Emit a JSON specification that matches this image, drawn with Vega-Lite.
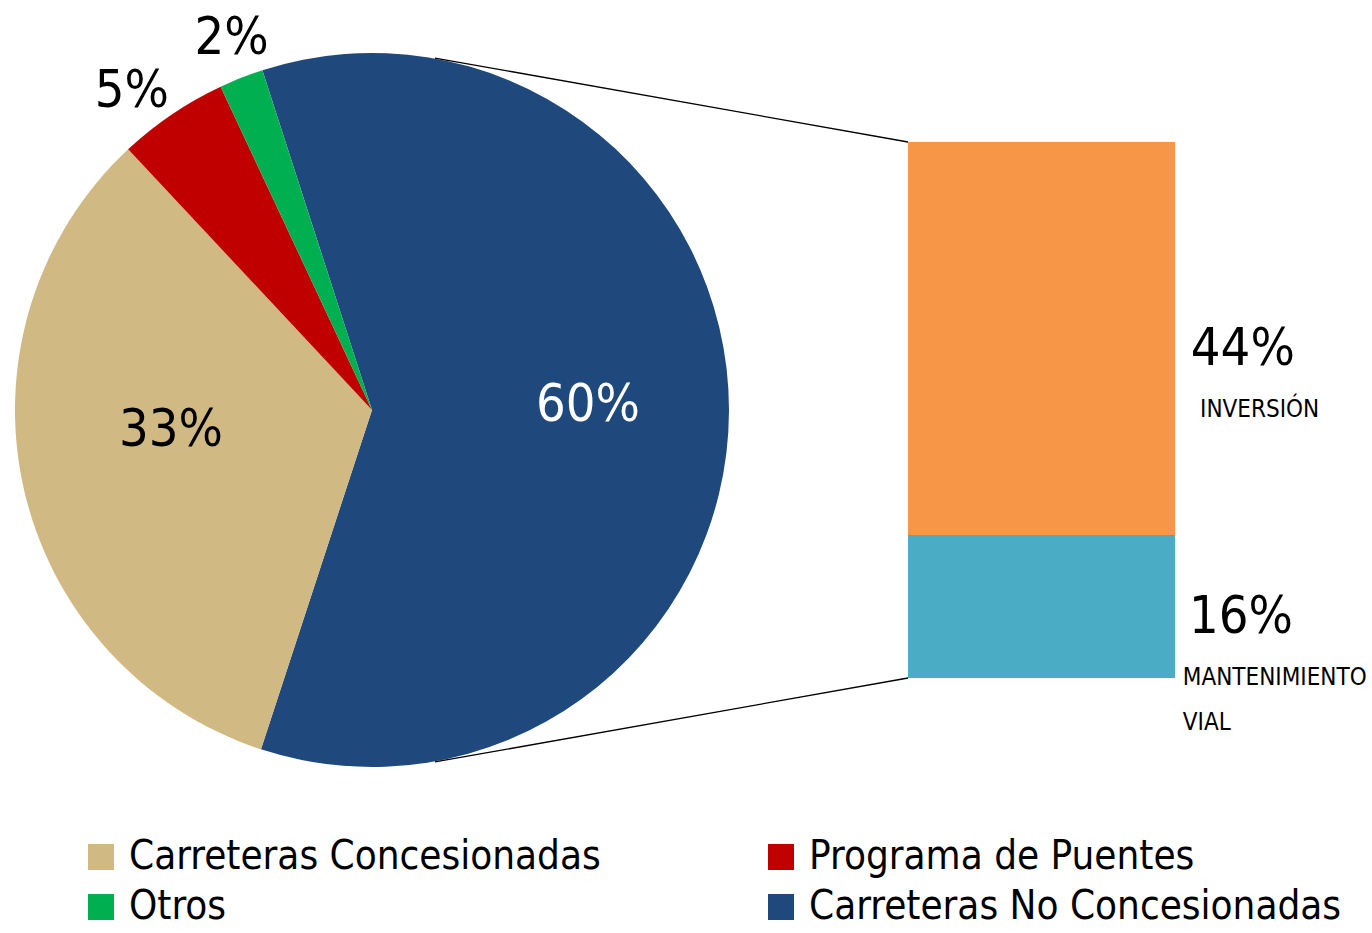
{
  "$schema": "https://vega.github.io/schema/vega-lite/v6.json",
  "width": 744,
  "height": 820,
  "autosize": {"type": "none"},
  "padding": {"left": 0, "top": 0, "right": 628, "bottom": 113},
  "background": "white",
  "config": {
    "view": {"stroke": null},
    "font": "DejaVu Sans Condensed, sans-serif",
    "text": {"font": "DejaVu Sans Condensed, sans-serif"}
  },
  "datasets": {
    "pie": [
      {"categoria": "Carreteras No Concesionadas", "pct": 60, "orden": 1, "etiqueta": "60%"},
      {"categoria": "Carreteras Concesionadas", "pct": 33, "orden": 2, "etiqueta": "33%"},
      {"categoria": "Programa de Puentes", "pct": 5, "orden": 3, "etiqueta": "5%"},
      {"categoria": "Otros", "pct": 2, "orden": 4, "etiqueta": "2%"}
    ],
    "barra": [
      {"componente": "MANTENIMIENTO VIAL", "pct": 16, "orden": 1, "etiqueta": "16%"},
      {"componente": "INVERSIÓN", "pct": 44, "orden": 2, "etiqueta": "44%"}
    ]
  },
  "resolve": {"scale": {"color": "independent"}},
  "layer": [
    {
      "data": {"name": "pie"},
      "encoding": {
        "theta": {"field": "pct", "type": "quantitative", "stack": true, "scale": {"range": [-0.312, 5.971]}},
        "order": {"field": "orden", "type": "quantitative"}
      },
      "layer": [
        {
          "mark": {"type": "arc", "radius": 357},
          "encoding": {
            "color": {
              "field": "categoria", "type": "nominal",
              "scale": {
                "domain": ["Carreteras Concesionadas", "Programa de Puentes", "Otros", "Carreteras No Concesionadas"],
                "range": ["#D0B982", "#C00000", "#00B050", "#1F497D"]
              },
              "legend": {
                "title": null,
                "orient": "none",
                "legendX": 81,
                "legendY": 837,
                "padding": 0,
                "direction": "horizontal",
                "columns": 2,
                "columnPadding": 160,
                "rowPadding": 10,
                "symbolType": "square",
                "symbolSize": 676,
                "symbolStrokeWidth": 0,
                "labelFontSize": 40,
                "labelOffset": 8,
                "labelLimit": 800,
                "labelColor": "black",
                "labelFont": "DejaVu Sans Condensed, sans-serif"
              }
            }
          }
        },
        {
          "mark": {"type": "text", "radius": 216, "fontSize": 52, "color": "white", "baseline": "middle", "align": "center", "dy": -5},
          "encoding": {
            "text": {"field": "etiqueta", "type": "nominal"},
            "opacity": {"condition": {"test": "datum.orden === 1", "value": 1}, "value": 0}
          }
        },
        {
          "mark": {"type": "text", "radius": 206, "fontSize": 52, "color": "black", "baseline": "middle", "align": "center", "dy": -25},
          "encoding": {
            "text": {"field": "etiqueta", "type": "nominal"},
            "opacity": {"condition": {"test": "datum.orden === 2", "value": 1}, "value": 0}
          }
        },
        {
          "mark": {"type": "text", "radius": 400, "fontSize": 52, "color": "black", "baseline": "middle", "align": "center", "dx": -16, "dy": 12},
          "encoding": {
            "text": {"field": "etiqueta", "type": "nominal"},
            "opacity": {"condition": {"test": "datum.orden === 3", "value": 1}, "value": 0}
          }
        },
        {
          "mark": {"type": "text", "radius": 400, "fontSize": 52, "color": "black", "baseline": "middle", "align": "center", "dx": 6},
          "encoding": {
            "text": {"field": "etiqueta", "type": "nominal"},
            "opacity": {"condition": {"test": "datum.orden === 4", "value": 1}, "value": 0}
          }
        }
      ]
    },
    {
      "data": {"name": "barra"},
      "transform": [
        {"stack": "pct", "groupby": [], "sort": [{"field": "orden", "order": "ascending"}], "as": ["s0", "s1"]}
      ],
      "layer": [
        {
          "mark": {"type": "rect"},
          "encoding": {
            "x": {"datum": 101.64, "type": "quantitative", "scale": {"domain": [0, 83.28], "nice": false, "zero": false}, "axis": null},
            "x2": {"datum": 131.53},
            "y": {"field": "s0", "type": "quantitative", "scale": {"domain": [-15.896, 75.896], "nice": false, "zero": false}, "axis": null},
            "y2": {"field": "s1"},
            "color": {
              "field": "componente", "type": "nominal",
              "scale": {"domain": ["INVERSIÓN", "MANTENIMIENTO VIAL"], "range": ["#F79646", "#4BACC6"]},
              "legend": null
            }
          }
        },
        {
          "transform": [{"filter": "datum.orden === 2"}],
          "layer": [
            {
              "mark": {"type": "rule", "color": "black", "strokeWidth": 1.3},
              "encoding": {
                "x": {"datum": 101.64, "type": "quantitative", "axis": null},
                "y": {"field": "s1", "type": "quantitative", "axis": null},
                "x2": {"datum": 48.69},
                "y2": {"datum": 69.4}
              }
            },
            {
              "mark": {"type": "text", "fontSize": 52, "align": "left", "baseline": "alphabetic", "dy": 223, "color": "black"},
              "encoding": {
                "x": {"datum": 133.3, "type": "quantitative", "axis": null},
                "y": {"field": "s1", "type": "quantitative", "axis": null},
                "text": {"field": "etiqueta", "type": "nominal"}
              }
            },
            {
              "mark": {"type": "text", "fontSize": 24, "align": "left", "baseline": "alphabetic", "dy": 275, "color": "black"},
              "encoding": {
                "x": {"datum": 134.33, "type": "quantitative", "axis": null},
                "y": {"field": "s1", "type": "quantitative", "axis": null},
                "text": {"field": "componente", "type": "nominal"}
              }
            }
          ]
        },
        {
          "transform": [{"filter": "datum.orden === 1"}],
          "layer": [
            {
              "mark": {"type": "rule", "color": "black", "strokeWidth": 1.3},
              "encoding": {
                "x": {"datum": 101.64, "type": "quantitative", "axis": null},
                "y": {"field": "s0", "type": "quantitative", "axis": null},
                "x2": {"datum": 48.69},
                "y2": {"datum": -9.4}
              }
            },
            {
              "mark": {"type": "text", "fontSize": 52, "align": "left", "baseline": "alphabetic", "dy": 98, "color": "black"},
              "encoding": {
                "x": {"datum": 133.1, "type": "quantitative", "axis": null},
                "y": {"field": "s1", "type": "quantitative", "axis": null},
                "text": {"field": "etiqueta", "type": "nominal"}
              }
            },
            {
              "mark": {"type": "text", "fontSize": 24, "align": "left", "baseline": "alphabetic", "dy": 150, "lineBreak": " ", "lineHeight": 45, "color": "black"},
              "encoding": {
                "x": {"datum": 132.4, "type": "quantitative", "axis": null},
                "y": {"field": "s1", "type": "quantitative", "axis": null},
                "text": {"field": "componente", "type": "nominal"}
              }
            }
          ]
        }
      ]
    }
  ]
}
